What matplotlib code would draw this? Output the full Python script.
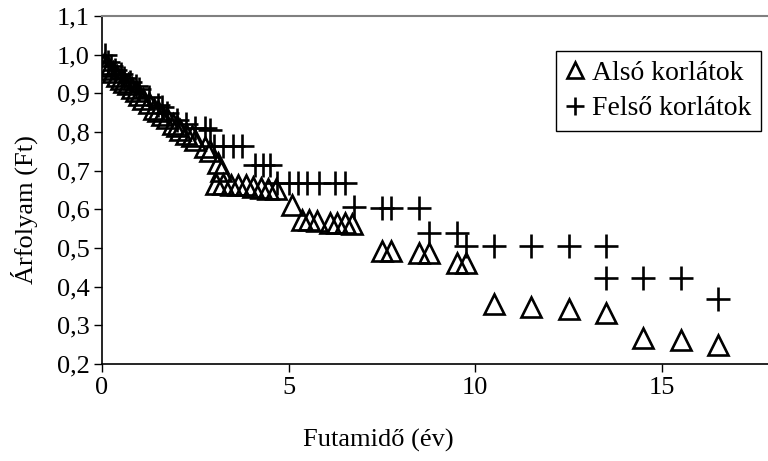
import numpy as np
import matplotlib
matplotlib.use("Agg")
from matplotlib import pyplot as plt
from matplotlib.ticker import FuncFormatter

plt.rcParams['font.family'] = ['Liberation Serif', 'DejaVu Serif']

# alsó korlátok (triangles)
also_x = [0.05, 0.1, 0.2, 0.3, 0.4, 0.5, 0.6, 0.7, 0.8, 0.9, 1.0, 1.1, 1.25, 1.4,
          1.5, 1.6, 1.75, 1.9, 2.0, 2.1, 2.25, 2.4, 2.5, 2.75, 2.9, 3.1, 3.2,
          3.05, 3.25, 3.45, 3.65, 3.85, 4.05, 4.25, 4.45, 4.65, 5.1,
          5.35, 5.55, 5.75, 6.1, 6.3, 6.5, 6.7, 7.5, 7.75, 8.5, 8.75, 9.5, 9.75,
          10.5, 11.5, 12.5, 13.5, 14.5, 15.5, 16.5]
also_y = [0.975, 0.97, 0.962, 0.955, 0.945, 0.938, 0.93, 0.925, 0.915, 0.905, 0.895, 0.885, 0.875, 0.86,
          0.855, 0.845, 0.835, 0.82, 0.815, 0.805, 0.795, 0.79, 0.78, 0.76, 0.75, 0.72, 0.70,
          0.665, 0.665, 0.663, 0.663, 0.662, 0.658, 0.655, 0.653, 0.652, 0.611,
          0.572, 0.572, 0.571, 0.565, 0.564, 0.564, 0.562, 0.493, 0.493, 0.488, 0.488, 0.46, 0.46,
          0.355, 0.348, 0.341, 0.331, 0.267, 0.261, 0.25]

# felső korlátok (plus)
felso_x = [0.08, 0.15, 0.25, 0.35, 0.5, 0.6, 0.75, 0.9, 1.0, 1.25, 1.5, 1.6, 1.75, 2.0,
           2.25, 2.5, 2.75, 2.9, 3.0, 3.25, 3.5, 3.75, 4.1, 4.3, 4.5, 4.7, 5.0, 5.25,
           5.5, 5.8, 6.25, 6.5, 6.75, 7.5, 7.75, 8.5, 8.75, 9.5, 9.75, 10.5, 11.5,
           12.5, 13.5, 13.5, 14.5, 15.5, 16.5]
felso_y = [1.0, 0.98, 0.97, 0.96, 0.95, 0.94, 0.93, 0.92, 0.91, 0.89, 0.87, 0.865, 0.85, 0.83,
           0.82, 0.81, 0.81, 0.805, 0.765, 0.765, 0.765, 0.765, 0.715, 0.715, 0.715, 0.667, 0.667, 0.667,
           0.667, 0.667, 0.667, 0.667, 0.607, 0.603, 0.603, 0.603, 0.54, 0.54, 0.506, 0.506, 0.506,
           0.506, 0.506, 0.422, 0.422, 0.422, 0.368]

fs = 19

fig = plt.figure(figsize=(7.68, 4.61), dpi=100)
ax = fig.add_axes([102/768, 97/461, 672/768, 348/461])

ax.plot(also_x, also_y, ls='none', marker='^', ms=15, mfc='none', mec='black',
        mew=1.9, label='Alsó korlátok')
ax.plot(felso_x, felso_y, ls='none', marker='+', ms=17, mec='black',
        mew=1.9, label='Felső korlátok')

ax.set_xlim(0, 18)
ax.set_ylim(0.2, 1.1)
ax.set_xticks([0, 5, 10, 15])
ax.set_yticks(np.arange(0.2, 1.11, 0.1))
ax.yaxis.set_major_formatter(FuncFormatter(lambda v, p: f"{v:.1f}".replace('.', ',')))
ax.tick_params(labelsize=fs, direction='out', length=6, width=1, pad=3)
ax.tick_params(axis='x', length=6, pad=3)

ax.spines['right'].set_visible(False)
ax.spines['top'].set_color('#808080')
ax.spines['top'].set_linewidth(1.5)
for s in ['left', 'bottom']:
    ax.spines[s].set_linewidth(1.2)

fig.text(378/768, 1 - 440/461, 'Futamidő (év)', ha='center', va='center', fontsize=fs)
fig.text(24/768, 1 - 210/461, 'Árfolyam (Ft)', ha='center', va='center', rotation=90, fontsize=fs)

leg = ax.legend(loc='upper left', bbox_to_anchor=(556/768, 1 - 51/461), bbox_transform=fig.transFigure,
                fontsize=20, markerscale=0.75, handlelength=0.7, handletextpad=0.25,
                borderpad=0.35, labelspacing=0.35, fancybox=False, framealpha=1, borderaxespad=0)
leg.get_frame().set_edgecolor('black')
leg.get_frame().set_linewidth(1.0)

fig.savefig('out.png', dpi=100)
